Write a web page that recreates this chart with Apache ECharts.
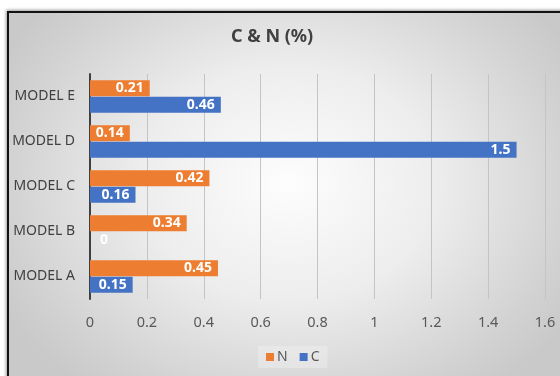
<!DOCTYPE html>
<html>
<head>
<meta charset="utf-8">
<script src="https://cdn.jsdelivr.net/npm/echarts@6/dist/echarts.min.js"></script>
<style>
  html, body { margin: 0; padding: 0; background: #fff; overflow: hidden; }
  #frame {
    position: absolute; left: 7px; top: 11px; width: 600px; height: 420px;
    border-left: 2px solid #111; border-top: 2px solid #111;
    background: radial-gradient(ellipse 330px 260px at 280px 170px, #fdfdfd 0%, #ededed 45%, #d2d2d2 85%, #c9c9c9 100%);
    box-shadow: -1px -1px 3px rgba(0,0,0,0.4);
  }
  #chart { position: absolute; left: 0; top: 0; width: 560px; height: 376px; }
</style>
</head>
<body>
<div id="frame"></div>
<div id="chart"></div>
<script>
// categories bottom -> top
const models = ['MODEL A', 'MODEL B', 'MODEL C', 'MODEL D', 'MODEL E'];
const nValues = [0.45, 0.34, 0.42, 0.14, 0.21];
const cValues = [0.15, 0, 0.16, 1.5, 0.46];

const orange = '#ED7D31';
const blue = '#4472C4';

// zero bars get their label just right of the axis
const withLabels = (vals) => vals.map((v) => (
  v === 0 ? { value: v, label: { position: 'right', distance: 10 } } : v
));

const barLabel = { show: true, position: 'insideRight', distance: 6, color: '#fff', fontSize: 14, fontWeight: 'bold' };

const chart = echarts.init(document.getElementById('chart'));
chart.setOption({
  animation: false,
  backgroundColor: 'transparent',
  textStyle: { fontFamily: 'Noto Sans' },
  title: {
    text: 'C & N (%)',
    left: 226,
    top: 23,
    textStyle: { fontSize: 18, fontWeight: 'bold', color: '#404040', fontFamily: 'Noto Sans' },
  },
  legend: {
    data: ['N', 'C'],
    left: 258,
    top: 346,
    icon: 'rect',
    itemWidth: 8,
    itemHeight: 8,
    itemGap: 12,
    padding: [4, 8],
    backgroundColor: 'rgba(255,255,255,0.25)',
    textStyle: { fontSize: 14, color: '#595959', padding: [0, 0, 0, -2] },
  },
  grid: { left: 90, right: 15, top: 74, bottom: 77 },
  xAxis: {
    type: 'value',
    min: 0,
    max: 1.6,
    interval: 0.2,
    axisLine: { show: false },
    axisTick: { show: false },
    axisLabel: { color: '#595959', fontSize: 14.5, margin: 16 },
    splitLine: { lineStyle: { color: '#c4c4c4', width: 1 } },
  },
  yAxis: {
    type: 'category',
    data: models,
    axisTick: { show: false },
    axisLine: { lineStyle: { color: '#404040', width: 2 } },
    axisLabel: { color: '#404040', fontSize: 14, margin: 15 },
  },
  series: [
    {
      name: 'N',
      type: 'bar',
      data: withLabels(nValues),
      barWidth: 16,
      barGap: '4%',
      itemStyle: { color: orange },
      label: barLabel,
    },
    {
      name: 'C',
      type: 'bar',
      data: withLabels(cValues),
      barWidth: 16,
      barGap: '4%',
      itemStyle: { color: blue },
      label: barLabel,
    },
  ],
});
</script>
</body>
</html>
